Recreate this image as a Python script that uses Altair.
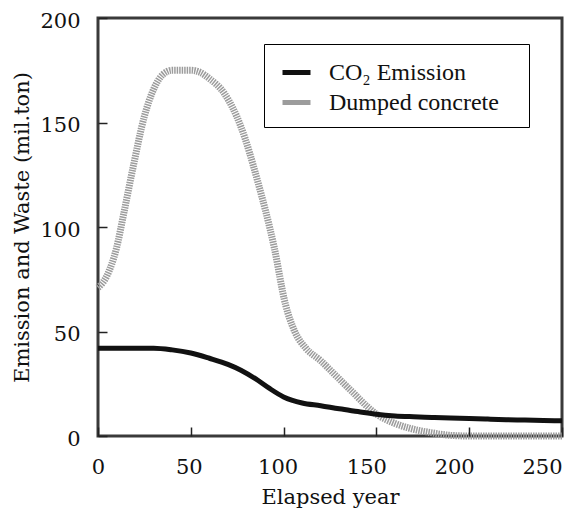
import altair as alt
import pandas as pd

co2_x = [0, 10, 20, 30, 40, 50, 60, 70, 77, 85, 92, 100, 110, 120, 130, 140, 150, 160, 170, 180, 190, 200, 210, 220, 230, 240, 250]
co2_y = [42, 42, 42, 42, 41.2, 39.7, 37.2, 34.3, 31.5, 27.3, 23, 18.7, 15.8, 14.5, 13, 11.7, 10.4, 9.6, 9.2, 8.9, 8.6, 8.4, 8.1, 7.8, 7.6, 7.4, 7.3]

con_x = [0, 5, 10, 14, 19, 25, 30, 35, 40, 50, 55, 60, 68, 77, 86, 95, 101, 106, 112, 120, 128, 136, 150, 160, 168, 180, 190, 200, 225, 250]
con_y = [71, 77, 90, 107, 129, 153, 166, 173, 175, 175, 174, 171, 164, 148, 122, 90, 63, 50, 42, 36, 29, 22, 10.5, 6, 3.7, 1.5, 0.3, 0, 0, 0]

series_names = ["CO₂ Emission", "Dumped concrete"]
x_values = [0, 50, 100, 150, 200, 250]
y_values = [0, 50, 100, 150, 200]

df_co2 = pd.DataFrame({"year": co2_x, "value": co2_y, "series": series_names[0]})
df_con = pd.DataFrame({"year": con_x, "value": con_y, "series": series_names[1]})

FONT = "Times New Roman"
AXIS_FONT = "DejaVu Serif"

xscale = alt.Scale(domain=[0, 250], nice=False)
yscale = alt.Scale(domain=[0, 200], nice=False)
cscale = alt.Scale(domain=series_names, range=["#111111", "#9c9c9c"])

legend = alt.Legend(
    title=None, orient="none", legendX=166, legendY=26,
    strokeColor="black", padding=12, symbolType="stroke",
    symbolSize=784, symbolStrokeWidth=5, symbolOffset=4,
    labelFont=FONT, labelFontSize=24, labelColor="#111",
    labelOffset=16, rowPadding=1, labelLimit=400,
    labelExpr="datum.label + '\u2800'",
)

common = dict(
    offset=-9, ticks=True, tickSize=9, tickWidth=1.5, tickColor="#222",
    domain=False, grid=False, zindex=1,
    labelFont=AXIS_FONT, titleFont=AXIS_FONT, labelFontSize=21, titleFontSize=21,
    titleFontWeight="normal", labelColor="#111", titleColor="#111",
    labelFlush=False,
)

xaxis = alt.Axis(
    title="Elapsed year", values=x_values,
    labelPadding=20, titleY=59,
    labelAlign={"condition": {"test": "datum.value == 250", "value": "right"}, "value": "center"},
    labelOffset={"condition": [
        {"test": "datum.value == 50", "value": -2},
        {"test": "datum.value == 100", "value": -6},
        {"test": "datum.value == 150", "value": -10},
        {"test": "datum.value == 200", "value": -15},
    ], "value": 0},
    **common,
)
yaxis = alt.Axis(title="Emission and Waste (mil.ton)", values=y_values,
                 labelPadding=18, titleX=-75, labelOffset=3, **common)

co2 = alt.Chart(df_co2).mark_line(interpolate="monotone", strokeWidth=5).encode(
    x=alt.X("year:Q", scale=xscale, axis=xaxis),
    y=alt.Y("value:Q", scale=yscale, axis=yaxis),
    color=alt.Color("series:N", scale=cscale, legend=legend),
)
con = alt.Chart(df_con).mark_line(interpolate="monotone", strokeWidth=7, strokeDash=[1.5, 1]).encode(
    x=alt.X("year:Q", scale=xscale, axis=xaxis),
    y=alt.Y("value:Q", scale=yscale, axis=yaxis),
    color=alt.Color("series:N", scale=cscale, legend=legend),
)

chart = alt.layer(con, co2).properties(
    width=464, height=418,
    autosize=alt.AutoSizeParams(type="none"),
    padding={"left": 98, "top": 18, "right": 6, "bottom": 82},
).configure_view(
    stroke="#3a3a3a", strokeWidth=3,
)

chart.save("out.html", embed_options={"renderer": "svg", "actions": False})
